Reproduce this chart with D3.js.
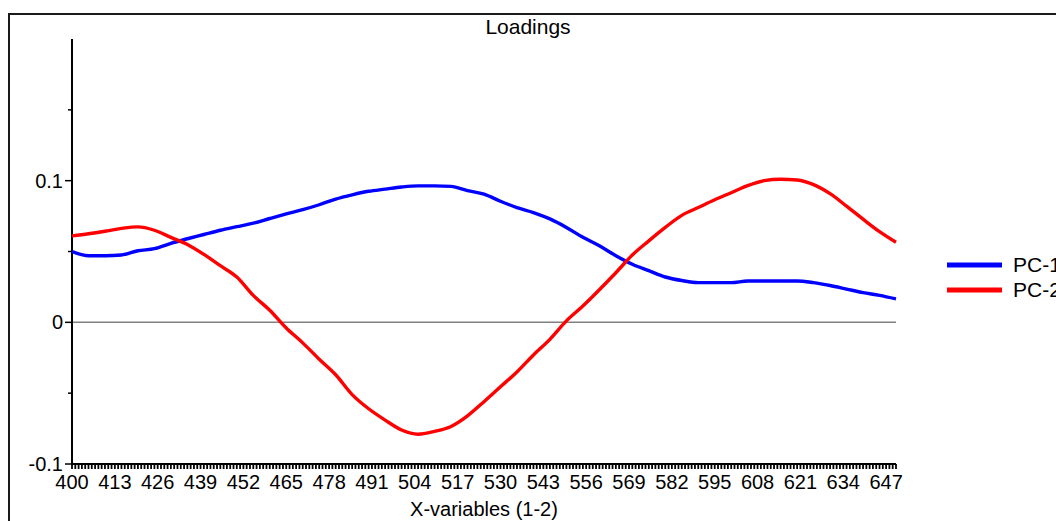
<!DOCTYPE html>
<html>
<head>
<meta charset="utf-8">
<script src="https://cdn.jsdelivr.net/npm/d3@7/dist/d3.min.js"></script>
<style>
  html, body { margin: 0; padding: 0; background: #fff; overflow: hidden; }
  svg { display: block; font-family: "Liberation Sans", Arial, sans-serif; }
</style>
</head>
<body>
<script>
"use strict";

// x-variables (wavelengths), sampled every 5
const wavelengths = [400, 405, 410, 415, 420, 425, 430, 435, 440, 445, 450, 455, 460, 465, 470, 475, 480, 485, 490, 495,
    500, 505, 510, 515, 520, 525, 530, 535, 540, 545, 550, 555, 560, 565, 570, 575, 580, 585, 590, 595,
    600, 605, 610, 615, 620, 625, 630, 635, 640, 645, 650];

const pc1 = [0.050, 0.047, 0.047, 0.0475, 0.0505, 0.052, 0.0558, 0.059, 0.062, 0.065, 0.0675, 0.070, 0.0733, 0.0765, 0.0795, 0.083, 0.087, 0.090, 0.0925, 0.094,
    0.0955, 0.0963, 0.0963, 0.096, 0.093, 0.0905, 0.0855, 0.081, 0.0775, 0.073, 0.067, 0.060, 0.054, 0.047, 0.041, 0.0365, 0.032, 0.0295, 0.028, 0.028,
    0.028, 0.0292, 0.0292, 0.0292, 0.0292, 0.028, 0.026, 0.0235, 0.021, 0.019, 0.0165];

const pc2 = [0.061, 0.0625, 0.0643, 0.0663, 0.0674, 0.065, 0.060, 0.055, 0.048, 0.040, 0.032, 0.019, 0.0085, -0.004, -0.0145, -0.026, -0.037, -0.051, -0.061, -0.069,
    -0.076, -0.079, -0.077, -0.0735, -0.066, -0.056, -0.0455, -0.035, -0.023, -0.012, 0.001, 0.0115, 0.023, 0.035, 0.0475, 0.0575, 0.067, 0.0755, 0.081, 0.0865,
    0.0915, 0.0965, 0.100, 0.101, 0.1005, 0.0972, 0.0908, 0.082, 0.0728, 0.064, 0.0565];

const seriesNames = ["PC-1", "PC-2"];
const seriesColors = ["#0000ff", "#ff0000"];
const xTickLabels = [400, 413, 426, 439, 452, 465, 478, 491, 504, 517, 530, 543, 556, 569, 582, 595, 608, 621, 634, 647];
const yMajorTicks = [-0.1, 0, 0.1];
const yMinorTicks = [-0.05, 0.05, 0.15];

const W = 1056, H = 521;
const plot = { left: 72, right: 896, top: 39, bottom: 464 };

const svg = d3.select("body").append("svg").attr("width", W).attr("height", H);

// outer frame (runs off the right and bottom edge)
svg.append("rect").attr("x", 9).attr("y", 14).attr("width", W + 20).attr("height", H + 20)
    .attr("fill", "none").attr("stroke", "#1a1a1a").attr("stroke-width", 2);

const x = d3.scaleLinear().domain([400, 650]).range([plot.left, plot.right]);
const y = d3.scaleLinear().domain([-0.1, 0.2]).range([plot.bottom, plot.top]);

// title
svg.append("text").attr("x", 528).attr("y", 34).attr("text-anchor", "middle")
    .style("font-size", "21px").text("Loadings");

// zero line
svg.append("line").attr("x1", plot.left).attr("x2", plot.right)
    .attr("y1", y(0)).attr("y2", y(0)).attr("stroke", "#808080").attr("stroke-width", 1.5);

// y axis
svg.append("line").attr("x1", plot.left).attr("x2", plot.left)
    .attr("y1", plot.top).attr("y2", plot.bottom).attr("stroke", "#000").attr("stroke-width", 2);
svg.selectAll(".ymaj").data(yMajorTicks).enter().append("line")
    .attr("x1", plot.left - 7).attr("x2", plot.left).attr("y1", d => y(d)).attr("y2", d => y(d))
    .attr("stroke", "#000").attr("stroke-width", 1.5);
svg.selectAll(".ymin").data(yMinorTicks).enter().append("line")
    .attr("x1", plot.left - 4).attr("x2", plot.left).attr("y1", d => y(d)).attr("y2", d => y(d))
    .attr("stroke", "#000").attr("stroke-width", 1.5);
svg.selectAll(".ylab").data(yMajorTicks).enter().append("text")
    .attr("x", plot.left - 9).attr("y", d => y(d) + 7).attr("text-anchor", "end")
    .style("font-size", "20px").text(d => String(d));

// x axis with a tick for every variable
svg.append("line").attr("x1", plot.left).attr("x2", plot.right)
    .attr("y1", plot.bottom).attr("y2", plot.bottom).attr("stroke", "#000").attr("stroke-width", 2);
svg.selectAll(".xt").data(d3.range(400, 651)).enter().append("line")
    .attr("x1", d => x(d)).attr("x2", d => x(d))
    .attr("y1", plot.bottom).attr("y2", plot.bottom + 5)
    .attr("stroke", "#000").attr("stroke-width", 1.8);
svg.selectAll(".xlab").data(xTickLabels).enter().append("text")
    .attr("x", d => x(d)).attr("y", plot.bottom + 25).attr("text-anchor", "middle")
    .style("font-size", "20px").text(d => d);
svg.append("text").attr("x", 484).attr("y", 516).attr("text-anchor", "middle")
    .style("font-size", "20px").text("X-variables (1-2)");

// curves
const line = d3.line().x((d, i) => x(wavelengths[i])).y(d => y(d)).curve(d3.curveMonotoneX);
[pc1, pc2].forEach((s, k) => {
    svg.append("path").datum(s).attr("d", line)
        .attr("fill", "none").attr("stroke", seriesColors[k]).attr("stroke-width", 3.4);
});

// legend
seriesNames.forEach((name, k) => {
    const ly = 265 + k * 25;
    svg.append("line").attr("x1", 947).attr("x2", 1002).attr("y1", ly).attr("y2", ly)
        .attr("stroke", seriesColors[k]).attr("stroke-width", 5);
    svg.append("text").attr("x", 1013).attr("y", ly + 7).style("font-size", "21px").text(name);
});
</script>
</body>
</html>
